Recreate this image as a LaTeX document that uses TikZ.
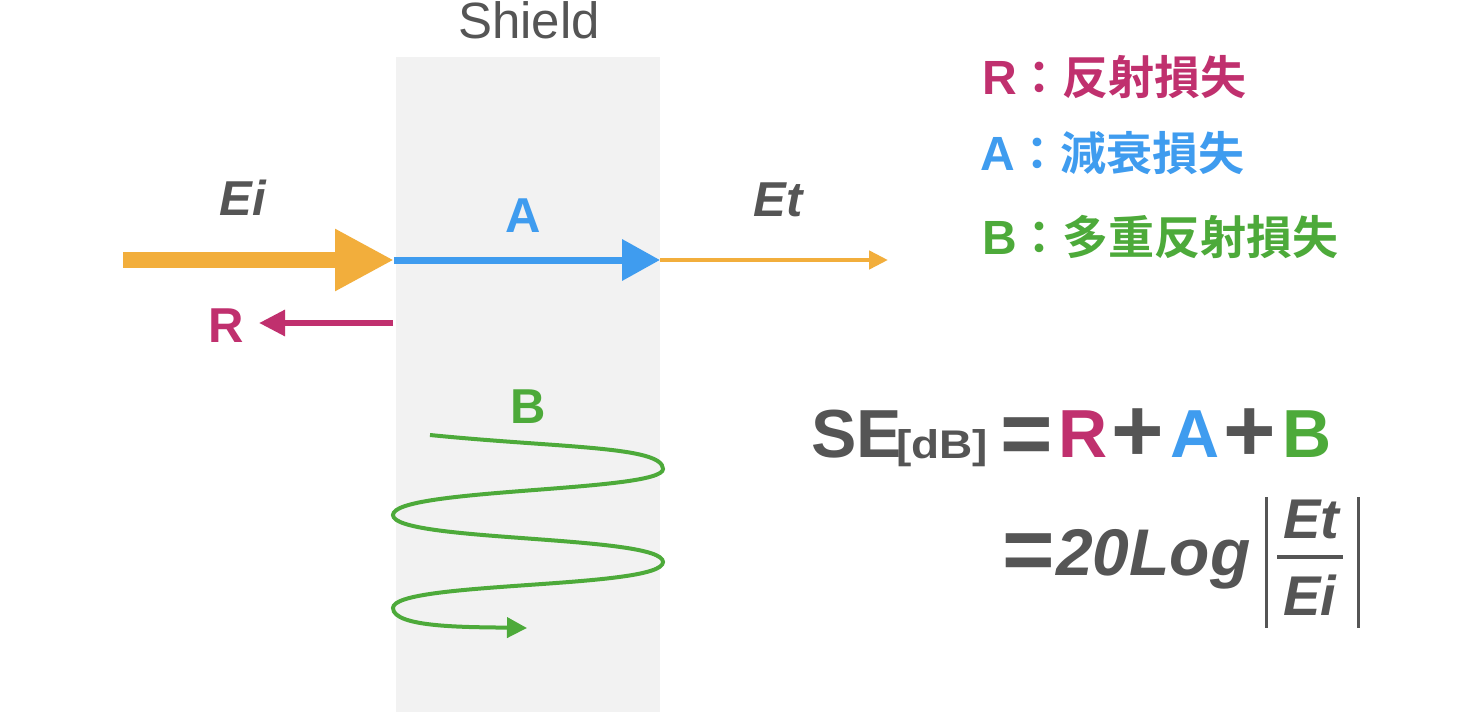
\documentclass[tikz,border=0pt]{standalone}
\usepackage{fontspec}
\setmainfont{Liberation Sans}
\newfontfamily\cjk{Noto Sans CJK JP}[BoldFont={* Bold}]
\usetikzlibrary{arrows.meta}
\definecolor{txtgray}{HTML}{555555}
\definecolor{shieldbg}{HTML}{F2F2F2}
\definecolor{eorange}{HTML}{F2AE3C}
\definecolor{ablue}{HTML}{3F9CEF}
\definecolor{rmag}{HTML}{C0306E}
\definecolor{bgreen}{HTML}{4DAA3A}
\newcommand{\fsz}[1]{\fontsize{#1}{#1}\selectfont}
\begin{document}
\begin{tikzpicture}[x=1pt,y=-1pt,
  lbl/.style={inner sep=0pt, anchor=base, font=\bfseries\fsz{49}},
  ilbl/.style={inner sep=0pt, anchor=base, text=txtgray, font=\bfseries\itshape\fsz{49}},
  leg/.style={inner sep=0pt, anchor=base west, font=\bfseries\fsz{48}},
  big/.style={inner sep=0pt, anchor=base west, font=\bfseries\fsz{68}},
  op/.style={inner sep=0pt, anchor=base, text=txtgray, font=\bfseries\fsz{90}},
  frac/.style={inner sep=0pt, anchor=base, text=txtgray, font=\bfseries\itshape\fsz{56}}]
\useasboundingbox (0,0) rectangle (1476,720);
\fill[white] (0,0) rectangle (1476,720);
% shield
\node[fill=shieldbg, minimum width=264pt, minimum height=655pt, inner sep=0pt, anchor=north west] (shield) at (396,57) {};
\node[inner sep=0pt, anchor=base, text=txtgray, font=\fsz{51}] (shieldlbl) at (529,38) {Shield};
% coordinates
\coordinate (eistart) at (123,260);
\coordinate (eitip) at (394,260);
\coordinate (shin) at (394,260);
\coordinate (shout) at (660,260);
\coordinate (etend) at (888,260);
\coordinate (rstart) at (393,323);
\coordinate (rend) at (259,323);
% arrows
\draw[eorange, line width=16pt, -{Triangle[length=59pt,width=58pt]}] (eistart) -- (eitip);
\draw[ablue, line width=7pt, -{Triangle[length=38pt,width=40pt]}] (shin) -- (shout);
\draw[eorange, line width=4.5pt, -{Triangle[length=19pt,width=18pt]}] (shout) -- (etend);
\draw[rmag, line width=6pt, -{Triangle[length=26pt,width=25pt]}] (rstart) -- (rend);
% multiple reflection wave
\coordinate (bw0) at (430,435);
\coordinate (bw1) at (663,469);
\coordinate (bw2) at (393,515);
\coordinate (bw3) at (663,562);
\coordinate (bw4) at (393,608);
\coordinate (bw5) at (527,628);
\draw[bgreen, line width=4pt, -{Triangle[length=20pt,width=20pt]}]
  (bw0) .. controls (560,448) and (663,446) .. (bw1)
  .. controls (663,492) and (393,488) .. (bw2)
  .. controls (393,542) and (663,535) .. (bw3)
  .. controls (663,589) and (393,581) .. (bw4)
  .. controls (393,628) and (470,627) .. (bw5);
% labels
\node[ilbl] (eilbl) at (243,215) {Ei};
\node[ilbl] (etlbl) at (778,216) {Et};
\node[lbl, text=ablue] (albl) at (523,232) {A};
\node[lbl, text=rmag] (rlbl) at (226,342) {R};
\node[lbl, text=bgreen] (blbl) at (528,423) {B};
% legend
\node[leg, text=rmag] (legr) at (982,94) {R{\cjk\fsz{46}：反射損失}};
\node[leg, text=ablue] (lega) at (980,170) {A{\cjk\fsz{46}：減衰損失}};
\node[leg, text=bgreen] (legb) at (982,254) {B{\cjk\fsz{46}：多重反射損失}};
% formula line 1
\node[big, text=txtgray] (se) at (811,457) {SE};
\node[inner sep=0pt, anchor=base west, text=txtgray, font=\bfseries\fsz{40}] (db) at (896,458) {\scalebox{1.15}[1]{[dB]}};
\node[op] (eq1) at (1027,464) {=};
\node[big, text=rmag] (fr) at (1058,457) {R};
\node[op] (p1) at (1138,461) {+};
\node[big, text=ablue] (fa) at (1170,457) {A};
\node[op] (p2) at (1250,461) {+};
\node[big, text=bgreen] (fb) at (1282,457) {B};
% formula line 2
\node[op] (eq2) at (1029,580) {=};
\node[inner sep=0pt, anchor=base west, text=txtgray, font=\bfseries\itshape\fsz{66}] (logt) at (1056,575) {20Log};
\coordinate (lbt) at (1266,497);
\coordinate (lbb) at (1266,628);
\coordinate (rbt) at (1358,497);
\coordinate (rbb) at (1358,628);
\draw[txtgray, line width=3pt] (lbt) -- (lbb);
\draw[txtgray, line width=3pt] (rbt) -- (rbb);
\node[frac] (fnum) at (1311,538) {Et};
\node[frac] (fden) at (1310,615) {Ei};
\coordinate (fl0) at (1277,556.5);
\coordinate (fl1) at (1343,556.5);
\draw[txtgray, line width=4pt] (fl0) -- (fl1);
\end{tikzpicture}
\end{document}
